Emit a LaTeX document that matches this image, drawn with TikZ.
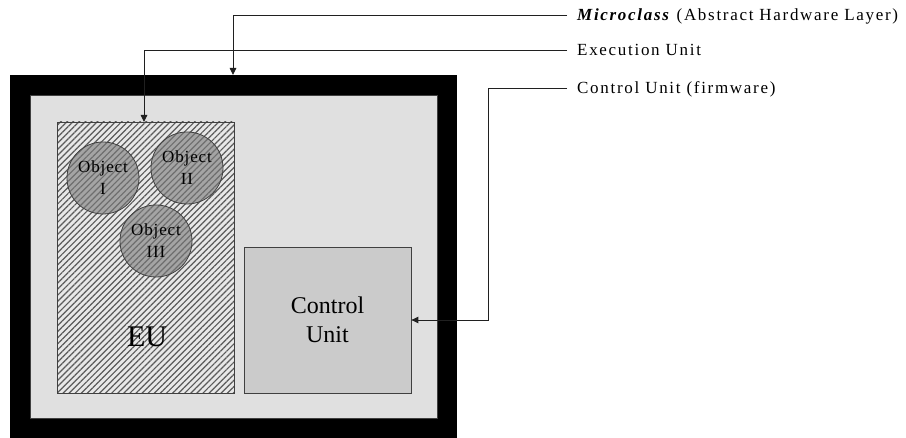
\documentclass[tikz,border=0pt]{standalone}
\usepackage{fontspec}
\setmainfont{Liberation Serif}
\newfontfamily\lblfont[LetterSpace=10]{Liberation Serif}
\newfontfamily\objfont[LetterSpace=5]{Liberation Serif}
\usetikzlibrary{patterns.meta,arrows.meta}
\definecolor{panelgray}{HTML}{E0E0E0}
\definecolor{cugray}{HTML}{CBCBCB}
\definecolor{eubg}{HTML}{E8E8E8}
\definecolor{hatch}{HTML}{5A5A5A}
\definecolor{objfill}{HTML}{A4A4A4}
\definecolor{objhatch}{HTML}{6E6E6E}
\definecolor{edge}{HTML}{404040}
\definecolor{wire}{HTML}{202020}
\tikzset{
  framebox/.style={fill=black, draw=none, minimum width=447pt, minimum height=363pt, inner sep=0pt},
  panelbox/.style={fill=panelgray, draw=edge, line width=0.8pt, minimum width=407pt, minimum height=323pt, inner sep=0pt},
  eubox/.style={draw=edge, line width=0.8pt, preaction={fill=eubg},
    pattern={Lines[angle=45,distance=4.3pt,line width=1.2pt]}, pattern color=hatch,
    minimum width=177pt, minimum height=271pt, inner sep=0pt},
  cubox/.style={fill=cugray, draw=edge, line width=0.8pt, minimum width=167pt, minimum height=146pt,
    inner sep=0pt, align=center, font=\fontsize{24}{29}\selectfont},
  objcircle/.style={circle, draw=edge, line width=0.8pt, preaction={fill=objfill},
    pattern={Lines[angle=45,distance=4.3pt,line width=1.2pt]}, pattern color=objhatch,
    minimum size=72pt, inner sep=0pt, align=center, font=\objfont\fontsize{17}{22}\selectfont},
  lbl/.style={anchor=west, inner xsep=10pt, inner ysep=3pt, text height=11pt, text depth=0pt,
    font=\lblfont\fontsize{17}{20}\selectfont},
  wireline/.style={draw=wire, line width=0.9pt},
  arr/.style={wireline, -{Triangle[length=7pt,width=6.5pt]}}
}
\begin{document}
\begin{tikzpicture}[x=1pt,y=-1pt]
\useasboundingbox (0,0) rectangle (906,438);
\node[framebox] (frame) at (233.5,256.5) {};
\node[panelbox] (panel) at (233.5,256.5) {};
\node[eubox] (eu) at (145.5,257.5) {};
\node[font=\fontsize{30}{36}\selectfont, inner sep=0pt] (eutext) at (147,337) {EU};
\node[objcircle] (o1) at (103,178) {Object\\I};
\node[objcircle] (o2) at (187,168) {Object\\II};
\node[objcircle] (o3) at (156,241) {Object\\III};
\node[cubox] (cu) at (327.5,320) {Control\\Unit};
\node[lbl] (mcl) at (567,15) {\textbf{\textit{Microclass}} (Abstract Hardware Layer)};
\node[lbl] (eul) at (567,50) {Execution Unit};
\node[lbl] (cul) at (567,88) {Control Unit (firmware)};
\coordinate (mtip) at (233,75);
\coordinate (eutip) at (144,122);
\coordinate (cbend) at (488,88);
\draw[arr] (mcl.west) -| (mtip);
\draw[arr] (eul.west) -| (eutip);
\draw[arr] (cul.west) -- (cbend) |- (cu.east);
\end{tikzpicture}
\end{document}
